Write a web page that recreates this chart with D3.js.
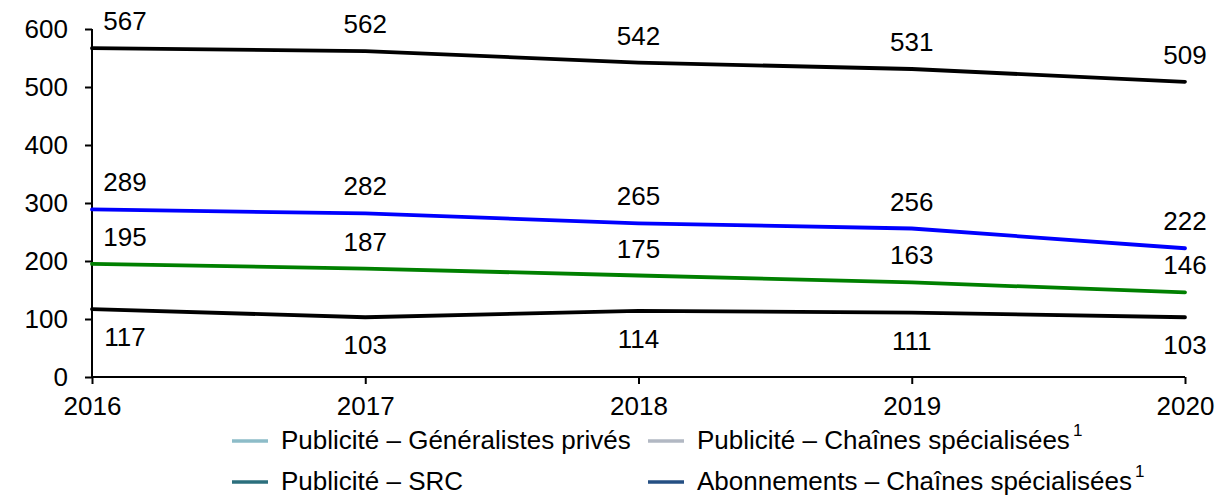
<!DOCTYPE html>
<html><head><meta charset="utf-8">
<script src="https://cdn.jsdelivr.net/npm/d3@7"></script>
<style>body{margin:0;background:#fff}svg{display:block;font-family:"Liberation Sans",Arial,sans-serif}</style>
</head><body><svg id="c" width="1217" height="496"></svg>
<script>
const years = [2016, 2017, 2018, 2019, 2020];
const seriesTop = [567, 562, 542, 531, 509];
const seriesBlue = [289, 282, 265, 256, 222];
const seriesGreen = [195, 187, 175, 163, 146];
const seriesBottom = [117, 103, 114, 111, 103];
const yTicks = [0, 100, 200, 300, 400, 500, 600];
const legendLabels = ["Publicité – Généralistes privés", "Publicité – Chaînes spécialisées", "Publicité – SRC", "Abonnements – Chaînes spécialisées"];
const legendSup = [false, true, false, true];
const legendColors = ["#8dbcc8", "#b2b8c3", "#2b6f7d", "#244f83"];

const series = [
  {v: seriesTop, color: "#000000", pos: "above"},
  {v: seriesBlue, color: "#0000ff", pos: "above"},
  {v: seriesGreen, color: "#008000", pos: "above"},
  {v: seriesBottom, color: "#000000", pos: "below"}
];

const FS = 26;
const svg = d3.select("#c");
const x = d3.scalePoint().domain(years).range([92, 1185]);
const y = d3.scaleLinear().domain([0, 600]).range([377, 29]);

const yAxis = svg.append("g").attr("transform", "translate(92,0)")
  .call(d3.axisLeft(y).tickValues(yTicks).tickSize(7).tickPadding(17));
const xAxis = svg.append("g").attr("transform", "translate(0,377)")
  .call(d3.axisBottom(x).tickSize(7).tickPadding(13));
[yAxis, xAxis].forEach(a => {
  a.attr("font-size", FS).attr("font-family", "Liberation Sans, Arial, sans-serif");
  a.select(".domain").attr("stroke", "#000").attr("stroke-width", 2);
  a.selectAll(".tick line").attr("stroke", "#000").attr("stroke-width", 2);
  a.selectAll("text").attr("fill", "#000");
});
yAxis.select(".domain").attr("d", `M0,${y(600)}V${y(0)}`);
xAxis.select(".domain").attr("d", `M${x(2016)},0H${x(2020)}`);

const line = d3.line().x((d, i) => x(years[i])).y(d => y(d));
series.forEach(s => {
  svg.append("path").datum(s.v).attr("d", line).attr("fill", "none")
    .attr("stroke", s.color).attr("stroke-width", 3.8).attr("stroke-linecap", "round");
  svg.append("g").selectAll("text").data(s.v).join("text")
    .attr("x", (d, i) => x(years[i]) + (i === 0 ? 33 : 0))
    .attr("y", d => s.pos === "above" ? y(d) - 18 : y(d) + 37)
    .attr("text-anchor", "middle").attr("font-size", FS).attr("fill", "#000")
    .text(d => d);
});

const legPos = [[232, 441], [648, 441], [232, 482], [648, 482]];
legendLabels.forEach((lab, i) => {
  const [lx, ly] = legPos[i];
  svg.append("line").attr("x1", lx).attr("x2", lx + 36).attr("y1", ly).attr("y2", ly)
    .attr("stroke", legendColors[i]).attr("stroke-width", 3.5);
  const t = svg.append("text").attr("x", lx + 49).attr("y", ly + 8).attr("font-size", FS).attr("fill", "#000");
  t.append("tspan").text(lab);
  if (legendSup[i]) t.append("tspan").attr("font-size", 17).attr("dy", -13).attr("dx", 3).text("1");
});
</script></body></html>
